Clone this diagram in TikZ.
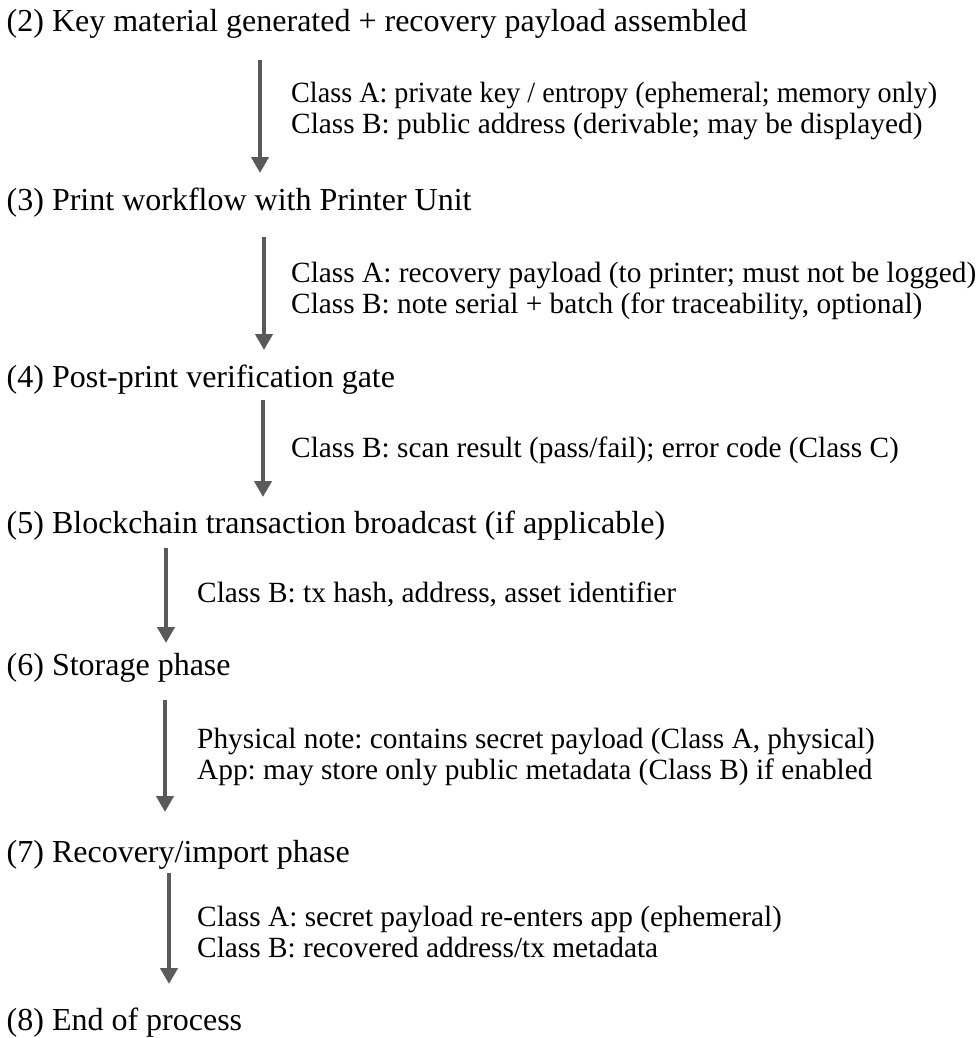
\documentclass[tikz,border=0pt]{standalone}
\usepackage{fontspec}
\usepackage{graphicx}
\setmainfont{Liberation Serif}
\frenchspacing
\usetikzlibrary{arrows.meta}
\definecolor{arrowgray}{RGB}{90,90,90}
\tikzset{
  stage/.style={anchor=base west, inner sep=0pt, font=\fontsize{32}{38}\selectfont},
  note/.style={anchor=base west, inner sep=0pt, align=left,
    font=\fontsize{29.33}{31}\selectfont},
  flow/.style={draw=arrowgray, line width=4.5pt,
    -{Triangle[width=17pt,length=16pt]}}
}
\begin{document}
\begin{tikzpicture}[x=1pt,y=-1pt]
\useasboundingbox (0,0) rectangle (979,1038);

% process stages
\node[stage] (h2) at (6.5,32)   {(2) Key material generated + recovery payload assembled};
\node[stage] (h3) at (6.5,210)  {(3) Print workflow with Printer Unit};
\node[stage] (h4) at (6.5,387)  {(4) Post-print verification gate};
\node[stage] (h5) at (6.5,533)  {(5) Blockchain transaction broadcast (if applicable)};
\node[stage] (h6) at (6.5,675)  {(6) Storage phase};
\node[stage] (h7) at (6.5,862)  {(7) Recovery/import phase};
\node[stage] (h8) at (6.5,1030) {(8) End of process};

% data carried between stages (base = baseline of the last line)
\node[note] (n1) at (291,133) {\scalebox{0.96}[1]{Class A: private key / entropy (ephemeral; memory only)}\\
  Class B: public address (derivable; may be displayed)};
\node[note] (n2) at (291,313) {Class A: recovery payload (to printer; must not be logged)\\
  Class B: note serial + batch (for traceability, optional)};
\node[note] (n3) at (291,457) {Class B: scan result (pass/fail); error code (Class C)};
\node[note] (n4) at (197,602) {Class B: tx hash, address, asset identifier};
\node[note] (n5) at (197,779) {Physical note: contains secret payload (Class A, physical)\\
  App: may store only public metadata (Class B) if enabled};
\node[note] (n6) at (197,957) {Class A: secret payload re-enters app (ephemeral)\\
  Class B: recovered address/tx metadata};

% arrow end points
\coordinate (a1s) at (260,60);  \coordinate (a1e) at (260,173);
\coordinate (a2s) at (264,237); \coordinate (a2e) at (264,350);
\coordinate (a3s) at (263,400); \coordinate (a3e) at (263,497);
\coordinate (a4s) at (166,548); \coordinate (a4e) at (166,643);
\coordinate (a5s) at (165,700); \coordinate (a5e) at (165,812);
\coordinate (a6s) at (169,873); \coordinate (a6e) at (169,984);

\draw[flow] (a1s) -- (a1e);
\draw[flow] (a2s) -- (a2e);
\draw[flow] (a3s) -- (a3e);
\draw[flow] (a4s) -- (a4e);
\draw[flow] (a5s) -- (a5e);
\draw[flow] (a6s) -- (a6e);
\end{tikzpicture}
\end{document}
